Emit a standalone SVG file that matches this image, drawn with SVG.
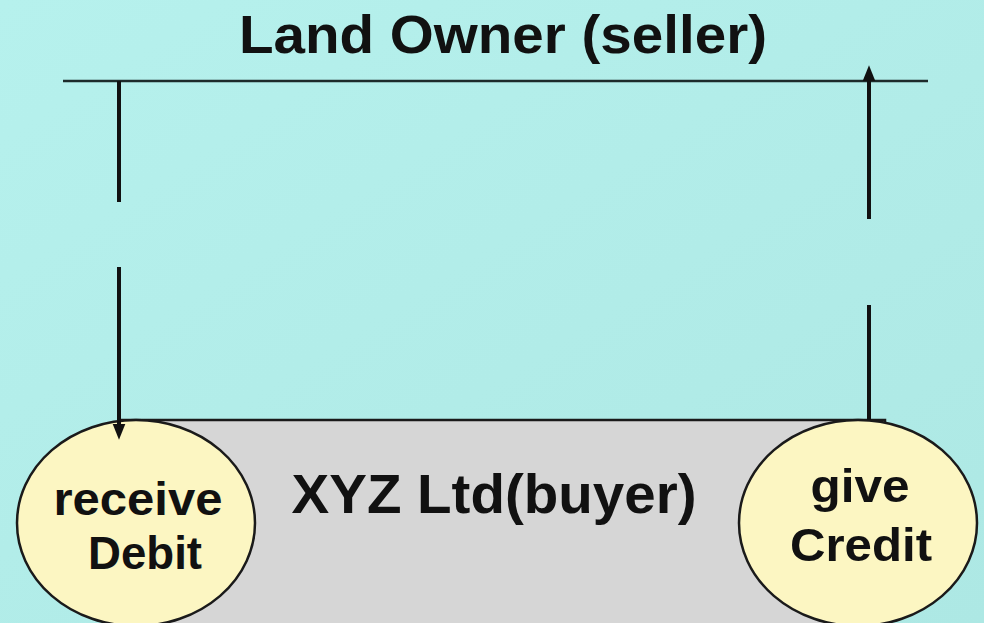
<svg xmlns="http://www.w3.org/2000/svg" width="984" height="623" viewBox="0 0 984 623">
<defs>
<linearGradient id="bg" x1="0" y1="0" x2="1" y2="1">
<stop offset="0" stop-color="#b6f1ed"/>
<stop offset="1" stop-color="#ade8e4"/>
</linearGradient>
<marker id="ah" viewBox="0 0 10 10" refX="2" refY="5" markerWidth="4" markerHeight="4" markerUnits="strokeWidth" orient="auto">
<path d="M0,1 L10,5 L0,9 Z" fill="#111"/>
</marker>
<style>
.t{font-family:"Liberation Sans",Arial,sans-serif;font-weight:bold;fill:#111;text-anchor:middle}
.ell{fill:#fcf6c2;stroke:#1a1a1a;stroke-width:2.5}
.ln{stroke:#111;stroke-width:4;fill:none}
</style>
</defs>
<rect width="984" height="623" fill="url(#bg)"/>
<g id="seller">
<text class="t" x="503" y="53" font-size="53" textLength="528" lengthAdjust="spacingAndGlyphs">Land Owner (seller)</text>
<line x1="63" y1="81" x2="928" y2="81" stroke="#1d2b2b" stroke-width="2.5"/>
</g>
<g id="buyer">
<rect x="120" y="420" width="765" height="205" fill="#d6d6d6" stroke="#1a1a1a" stroke-width="2.5"/>
<text class="t" x="494" y="513" font-size="55" textLength="405" lengthAdjust="spacingAndGlyphs">XYZ Ltd(buyer)</text>
</g>
<g id="receive">
<ellipse class="ell" cx="136" cy="523" rx="119" ry="103"/>
<text class="t" x="138" y="515" font-size="47" textLength="169" lengthAdjust="spacingAndGlyphs">receive</text>
<text class="t" x="145" y="569" font-size="47" textLength="114" lengthAdjust="spacingAndGlyphs">Debit</text>
</g>
<g id="give">
<ellipse class="ell" cx="858" cy="523" rx="119" ry="103"/>
<text class="t" x="860" y="502" font-size="47" textLength="99" lengthAdjust="spacingAndGlyphs">give</text>
<text class="t" x="861" y="561" font-size="47" textLength="142" lengthAdjust="spacingAndGlyphs">Credit</text>
</g>
<g id="connectors">
<line class="ln" x1="119" y1="81" x2="119" y2="202"/>
<line class="ln" x1="119" y1="267" x2="119" y2="427" marker-end="url(#ah)"/>
<line class="ln" x1="869" y1="420" x2="869" y2="305"/>
<line class="ln" x1="869" y1="219" x2="869" y2="78" marker-end="url(#ah)"/>
</g>
</svg>
